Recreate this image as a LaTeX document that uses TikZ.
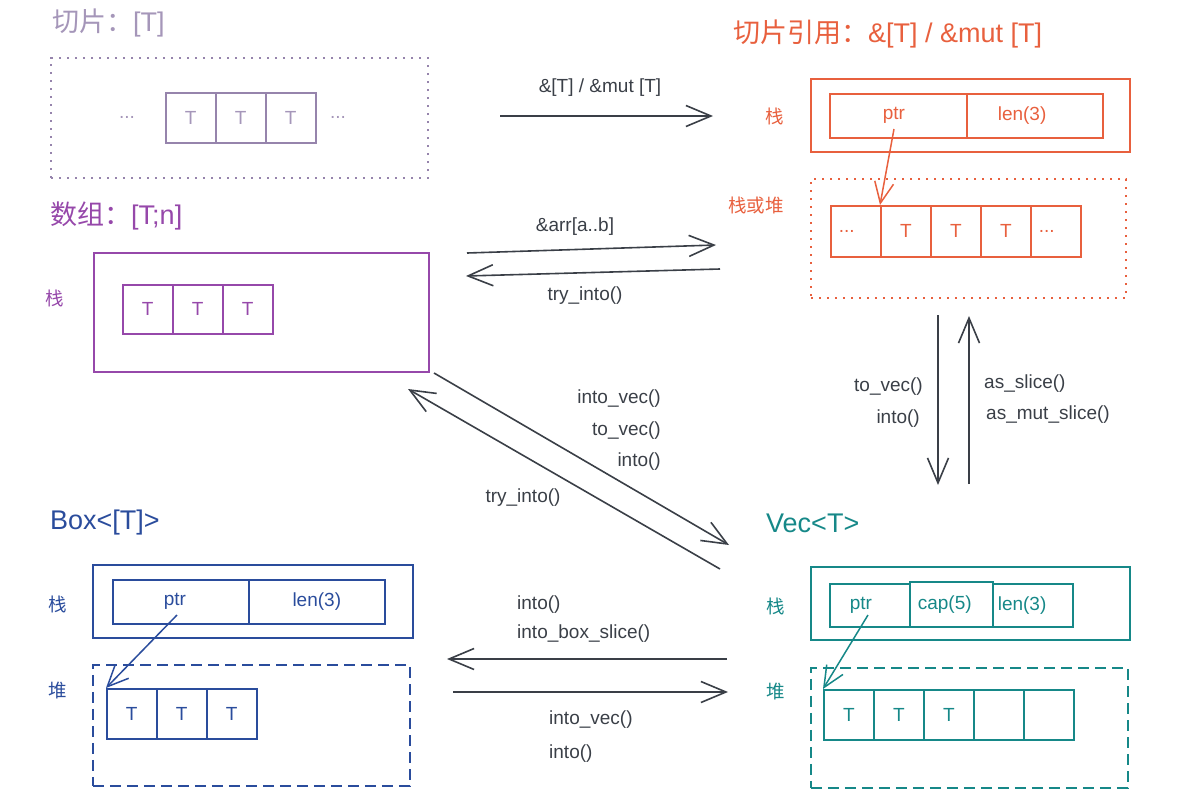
\documentclass[tikz,border=0pt]{standalone}
\usepackage{fontspec}
\setmainfont{Liberation Sans}
\newfontfamily\cjk{Noto Sans CJK SC}
\usetikzlibrary{arrows.meta}
\definecolor{cslice}{RGB}{165,150,185}
\definecolor{cslicebox}{RGB}{150,132,172}
\definecolor{carr}{RGB}{150,72,170}
\definecolor{cref}{RGB}{232,96,62}
\definecolor{cbox}{RGB}{42,76,156}
\definecolor{cvec}{RGB}{22,136,136}
\definecolor{cline}{RGB}{58,63,71}
\begin{document}
\begin{tikzpicture}[x=1pt,y=-1pt,
  title/.style={font=\fontsize{27}{30}\selectfont, inner sep=0pt, anchor=west},
  lbl/.style={font=\fontsize{19}{21}\selectfont, text=cline, inner sep=0pt},
  side/.style={font=\cjk\fontsize{18.5}{20}\selectfont, inner sep=0pt},
  cell/.style={draw, line width=1.6pt, minimum width=50pt, minimum height=50pt, inner sep=0pt, anchor=north west, font=\fontsize{19}{21}\selectfont},
  frame/.style={draw, line width=1.6pt, inner sep=0pt, anchor=north west},
  dotframe/.style={frame, line width=2.2pt, dash pattern=on 2.2pt off 5.8pt},
  dashframe/.style={frame, line width=1.9pt, dash pattern=on 11pt off 6pt},
  conv/.style={draw=cline, line width=1.6pt, -{Straight Barb[length=25pt,width=21pt]}},
  ptrarrow/.style={line width=1.5pt, -{Straight Barb[length=21pt,width=19pt]}}
]
\useasboundingbox (0,0) rectangle (1184,804);

% ---------- Slice [T] ----------
\node[title, text=cslice] (tslice) at (52,23) {{\cjk 切片：}[T]};
\node[dotframe, draw=cslicebox, minimum width=377pt, minimum height=120pt] (sliceframe) at (50,57) {};
\foreach \i/\x in {1/165,2/215,3/265}
  \node[cell, draw=cslicebox, text=cslice] (s\i) at (\x,92) {T};
\node[lbl, text=cslice] (sdl) at (127,117) {...};
\node[lbl, text=cslice] (sdr) at (338,117) {...};

% ---------- Slice reference ----------
\node[title, text=cref] (tref) at (733,34) {{\cjk 切片引用：}\&[T] / \&mut [T]};
\node[side, text=cref] (rstacklbl) at (775,116) {栈};
\node[frame, draw=cref, minimum width=319pt, minimum height=73pt] (rstack) at (810,78) {};
\node[cell, draw=cref, text=cref, minimum width=137pt, minimum height=44pt, text width=31pt, align=left] (rptr) at (829,93) {ptr};
\node[cell, draw=cref, text=cref, minimum width=136pt, minimum height=44pt, text width=74pt, align=left] (rlen) at (966,93) {len(3)};
\node[side, text=cref] (rheaplbl) at (756,205) {栈或堆};
\node[dotframe, draw=cref, minimum width=315pt, minimum height=119pt] (rheap) at (810,178) {};
\node[cell, draw=cref, text=cref, minimum height=51pt, text width=34pt, align=left] (rc1) at (830,205) {...};
\foreach \i/\x in {2/880,3/930,4/980}
  \node[cell, draw=cref, text=cref, minimum height=51pt] (rc\i) at (\x,205) {T};
\node[cell, draw=cref, text=cref, minimum height=51pt, text width=34pt, align=left] (rc5) at (1030,205) {...};
\coordinate (rptrstart) at (894,129);
\draw[ptrarrow, cref] (rptrstart) -- (rc2.north west);

% ---------- Array [T;n] ----------
\node[title, text=carr] (tarr) at (50,216) {{\cjk 数组：}[T;n]};
\node[side, text=carr] (astacklbl) at (55,298) {栈};
\node[frame, draw=carr, minimum width=335pt, minimum height=119pt] (astack) at (93,252) {};
\foreach \i/\x in {1/122,2/172,3/222}
  \node[cell, draw=carr, text=carr, minimum height=49pt] (a\i) at (\x,284) {T};

% ---------- Box<[T]> ----------
\node[title, text=cbox] (tbox) at (50,523) {Box<[T]>};
\node[side, text=cbox] (bstacklbl) at (58,604) {栈};
\node[frame, draw=cbox, minimum width=320pt, minimum height=73pt] (bstack) at (92,564) {};
\node[cell, draw=cbox, text=cbox, minimum width=136pt, minimum height=44pt, text width=34pt, align=left] (bptr) at (112,579) {ptr};
\node[cell, draw=cbox, text=cbox, minimum width=136pt, minimum height=44pt] (blen) at (248,579) {len(3)};
\node[side, text=cbox] (bheaplbl) at (58,691) {堆};
\node[dashframe, draw=cbox, minimum width=317pt, minimum height=121pt] (bheap) at (92,664) {};
\foreach \i/\x in {1/106,2/156,3/206}
  \node[cell, draw=cbox, text=cbox] (bc\i) at (\x,688) {T};
\coordinate (bptrstart) at (177,615);
\draw[ptrarrow, cbox] (bptrstart) -- (bc1.north west);

% ---------- Vec<T> ----------
\node[title, text=cvec] (tvec) at (766,523) {Vec<T>};
\node[side, text=cvec] (vstacklbl) at (776,606) {栈};
\node[frame, draw=cvec, minimum width=319pt, minimum height=73pt] (vstack) at (810,566) {};
\node[cell, draw=cvec, text=cvec, minimum width=80pt, minimum height=43pt, text width=40pt, align=left] (vptr) at (829,583) {ptr};
\node[cell, draw=cvec, text=cvec, minimum width=83pt, minimum height=45pt, text width=67pt, align=left] (vcap) at (909,581) {cap(5)};
\node[cell, draw=cvec, text=cvec, minimum width=80pt, minimum height=43pt, text width=70pt, align=left] (vlen) at (992,583) {len(3)};
\node[side, text=cvec] (vheaplbl) at (776,692) {堆};
\node[dashframe, draw=cvec, minimum width=317pt, minimum height=120pt] (vheap) at (810,667) {};
\foreach \i/\x/\t in {1/823/T,2/873/T,3/923/T,4/973/{},5/1023/{}}
  \node[cell, draw=cvec, text=cvec] (vc\i) at (\x,689) {\t};
\coordinate (vptrstart) at (868,615);
\draw[ptrarrow, cvec] (vptrstart) -- (vc1.north west);

% ---------- conversions ----------
\coordinate (c1s) at (500,116); \coordinate (c1e) at (713,116);
\draw[conv] (c1s) -- (c1e);
\node[lbl] (l1) at (600,88) {\&[T] / \&mut [T]};

\coordinate (c2s) at (467,253); \coordinate (c2e) at (716,245);
\draw[conv] (c2s) -- (c2e);
\node[lbl] (l2) at (575,227) {\&arr[a..b]};
\coordinate (c3s) at (720,269); \coordinate (c3e) at (466,276);
\draw[conv] (c3s) -- (c3e);
\node[lbl] (l3) at (585,296) {try\_into()};

\coordinate (c4s) at (434,373); \coordinate (c4e) at (729,545);
\draw[conv] (c4s) -- (c4e);
\coordinate (c5s) at (720,569); \coordinate (c5e) at (408,389);
\draw[conv] (c5s) -- (c5e);
\node[lbl, anchor=east] (l4a) at (661,399) {into\_vec()};
\node[lbl, anchor=east] (l4b) at (661,431) {to\_vec()};
\node[lbl, anchor=east] (l4c) at (661,462) {into()};
\node[lbl] (l5) at (523,498) {try\_into()};

\coordinate (c6s) at (938,315); \coordinate (c6e) at (938,485);
\draw[conv] (c6s) -- (c6e);
\coordinate (c7s) at (969,484); \coordinate (c7e) at (969,316);
\draw[conv] (c7s) -- (c7e);
\node[lbl, anchor=east] (l6a) at (923,387) {to\_vec()};
\node[lbl, anchor=east] (l6b) at (920,419) {into()};
\node[lbl, anchor=west] (l7a) at (984,384) {as\_slice()};
\node[lbl, anchor=west] (l7b) at (986,415) {as\_mut\_slice()};

\coordinate (c8s) at (727,659); \coordinate (c8e) at (447,659);
\draw[conv] (c8s) -- (c8e);
\coordinate (c9s) at (453,692); \coordinate (c9e) at (728,692);
\draw[conv] (c9s) -- (c9e);
\node[lbl, anchor=west] (l8a) at (517,605) {into()};
\node[lbl, anchor=west] (l8b) at (517,634) {into\_box\_slice()};
\node[lbl, anchor=west] (l9a) at (549,720) {into\_vec()};
\node[lbl, anchor=west] (l9b) at (549,754) {into()};
\end{tikzpicture}
\end{document}
